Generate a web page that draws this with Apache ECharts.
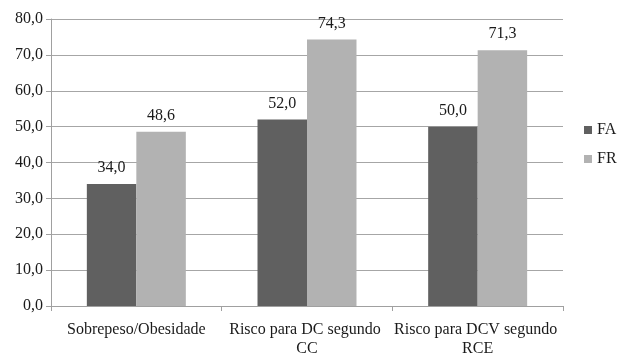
<!DOCTYPE html>
<html>
<head>
<meta charset="utf-8">
<script src="https://cdn.jsdelivr.net/npm/echarts@6/dist/echarts.min.js"></script>
<style>
  html, body { margin: 0; padding: 0; background: #fff; }
  #chart { width: 628px; height: 358px; }
</style>
</head>
<body>
<div id="chart"></div>
<script>
// Categories and percentages per group
const categories = ['Sobrepeso/Obesidade', 'Risco para DC segundo CC', 'Risco para DCV segundo RCE'];
const seriesNames = ['FA', 'FR'];
const valuesFA = [34.0, 52.0, 50.0];
const valuesFR = [48.6, 74.3, 71.3];
const yTicks = [0, 10, 20, 30, 40, 50, 60, 70, 80];

const fmt = v => Number(v).toFixed(1).replace('.', ',');
const FONT = '"Liberation Serif", "Times New Roman", serif';
const TXT = '#1a1a1a';

const chart = echarts.init(document.getElementById('chart'), null, { renderer: 'canvas' });

chart.setOption({
  animation: false,
  backgroundColor: '#ffffff',
  textStyle: { fontFamily: FONT },
  grid: { left: 51, right: 65, top: 19, bottom: 49, containLabel: false },
  legend: {
    orient: 'vertical',
    left: 584,
    top: 122,
    padding: 0,
    itemWidth: 8,
    itemHeight: 8,
    itemGap: 13,
    icon: 'rect',
    data: seriesNames,
    textStyle: { fontFamily: FONT, fontSize: 16, lineHeight: 16, color: TXT }
  },
  xAxis: {
    type: 'category',
    data: categories,
    axisLine: { lineStyle: { color: '#a0a0a0', width: 1 } },
    axisTick: { show: true, length: 5, lineStyle: { color: '#a0a0a0' } },
    axisLabel: {
      fontFamily: FONT, fontSize: 16, color: TXT, margin: 14,
      width: 168, overflow: 'break', lineHeight: 19, interval: 0
    }
  },
  yAxis: {
    type: 'value',
    min: yTicks[0],
    max: yTicks[yTicks.length - 1],
    interval: 10,
    axisLine: { show: true, lineStyle: { color: '#a0a0a0', width: 1 } },
    axisTick: { show: true, length: 5, lineStyle: { color: '#a0a0a0' } },
    axisLabel: { fontFamily: FONT, fontSize: 16, color: TXT, margin: 8, formatter: fmt },
    splitLine: { lineStyle: { color: '#a6a6a6', width: 1 } }
  },
  series: [
    {
      name: seriesNames[0],
      type: 'bar',
      data: valuesFA,
      barGap: '0%',
      barCategoryGap: '42%',
      itemStyle: { color: '#606060' },
      label: { show: true, position: 'top', distance: 8, fontFamily: FONT, fontSize: 16, color: TXT, formatter: p => fmt(p.value) }
    },
    {
      name: seriesNames[1],
      type: 'bar',
      data: valuesFR,
      barGap: '0%',
      barCategoryGap: '42%',
      itemStyle: { color: '#b2b2b2' },
      label: { show: true, position: 'top', distance: 8, fontFamily: FONT, fontSize: 16, color: TXT, formatter: p => fmt(p.value) }
    }
  ]
});
</script>
</body>
</html>
